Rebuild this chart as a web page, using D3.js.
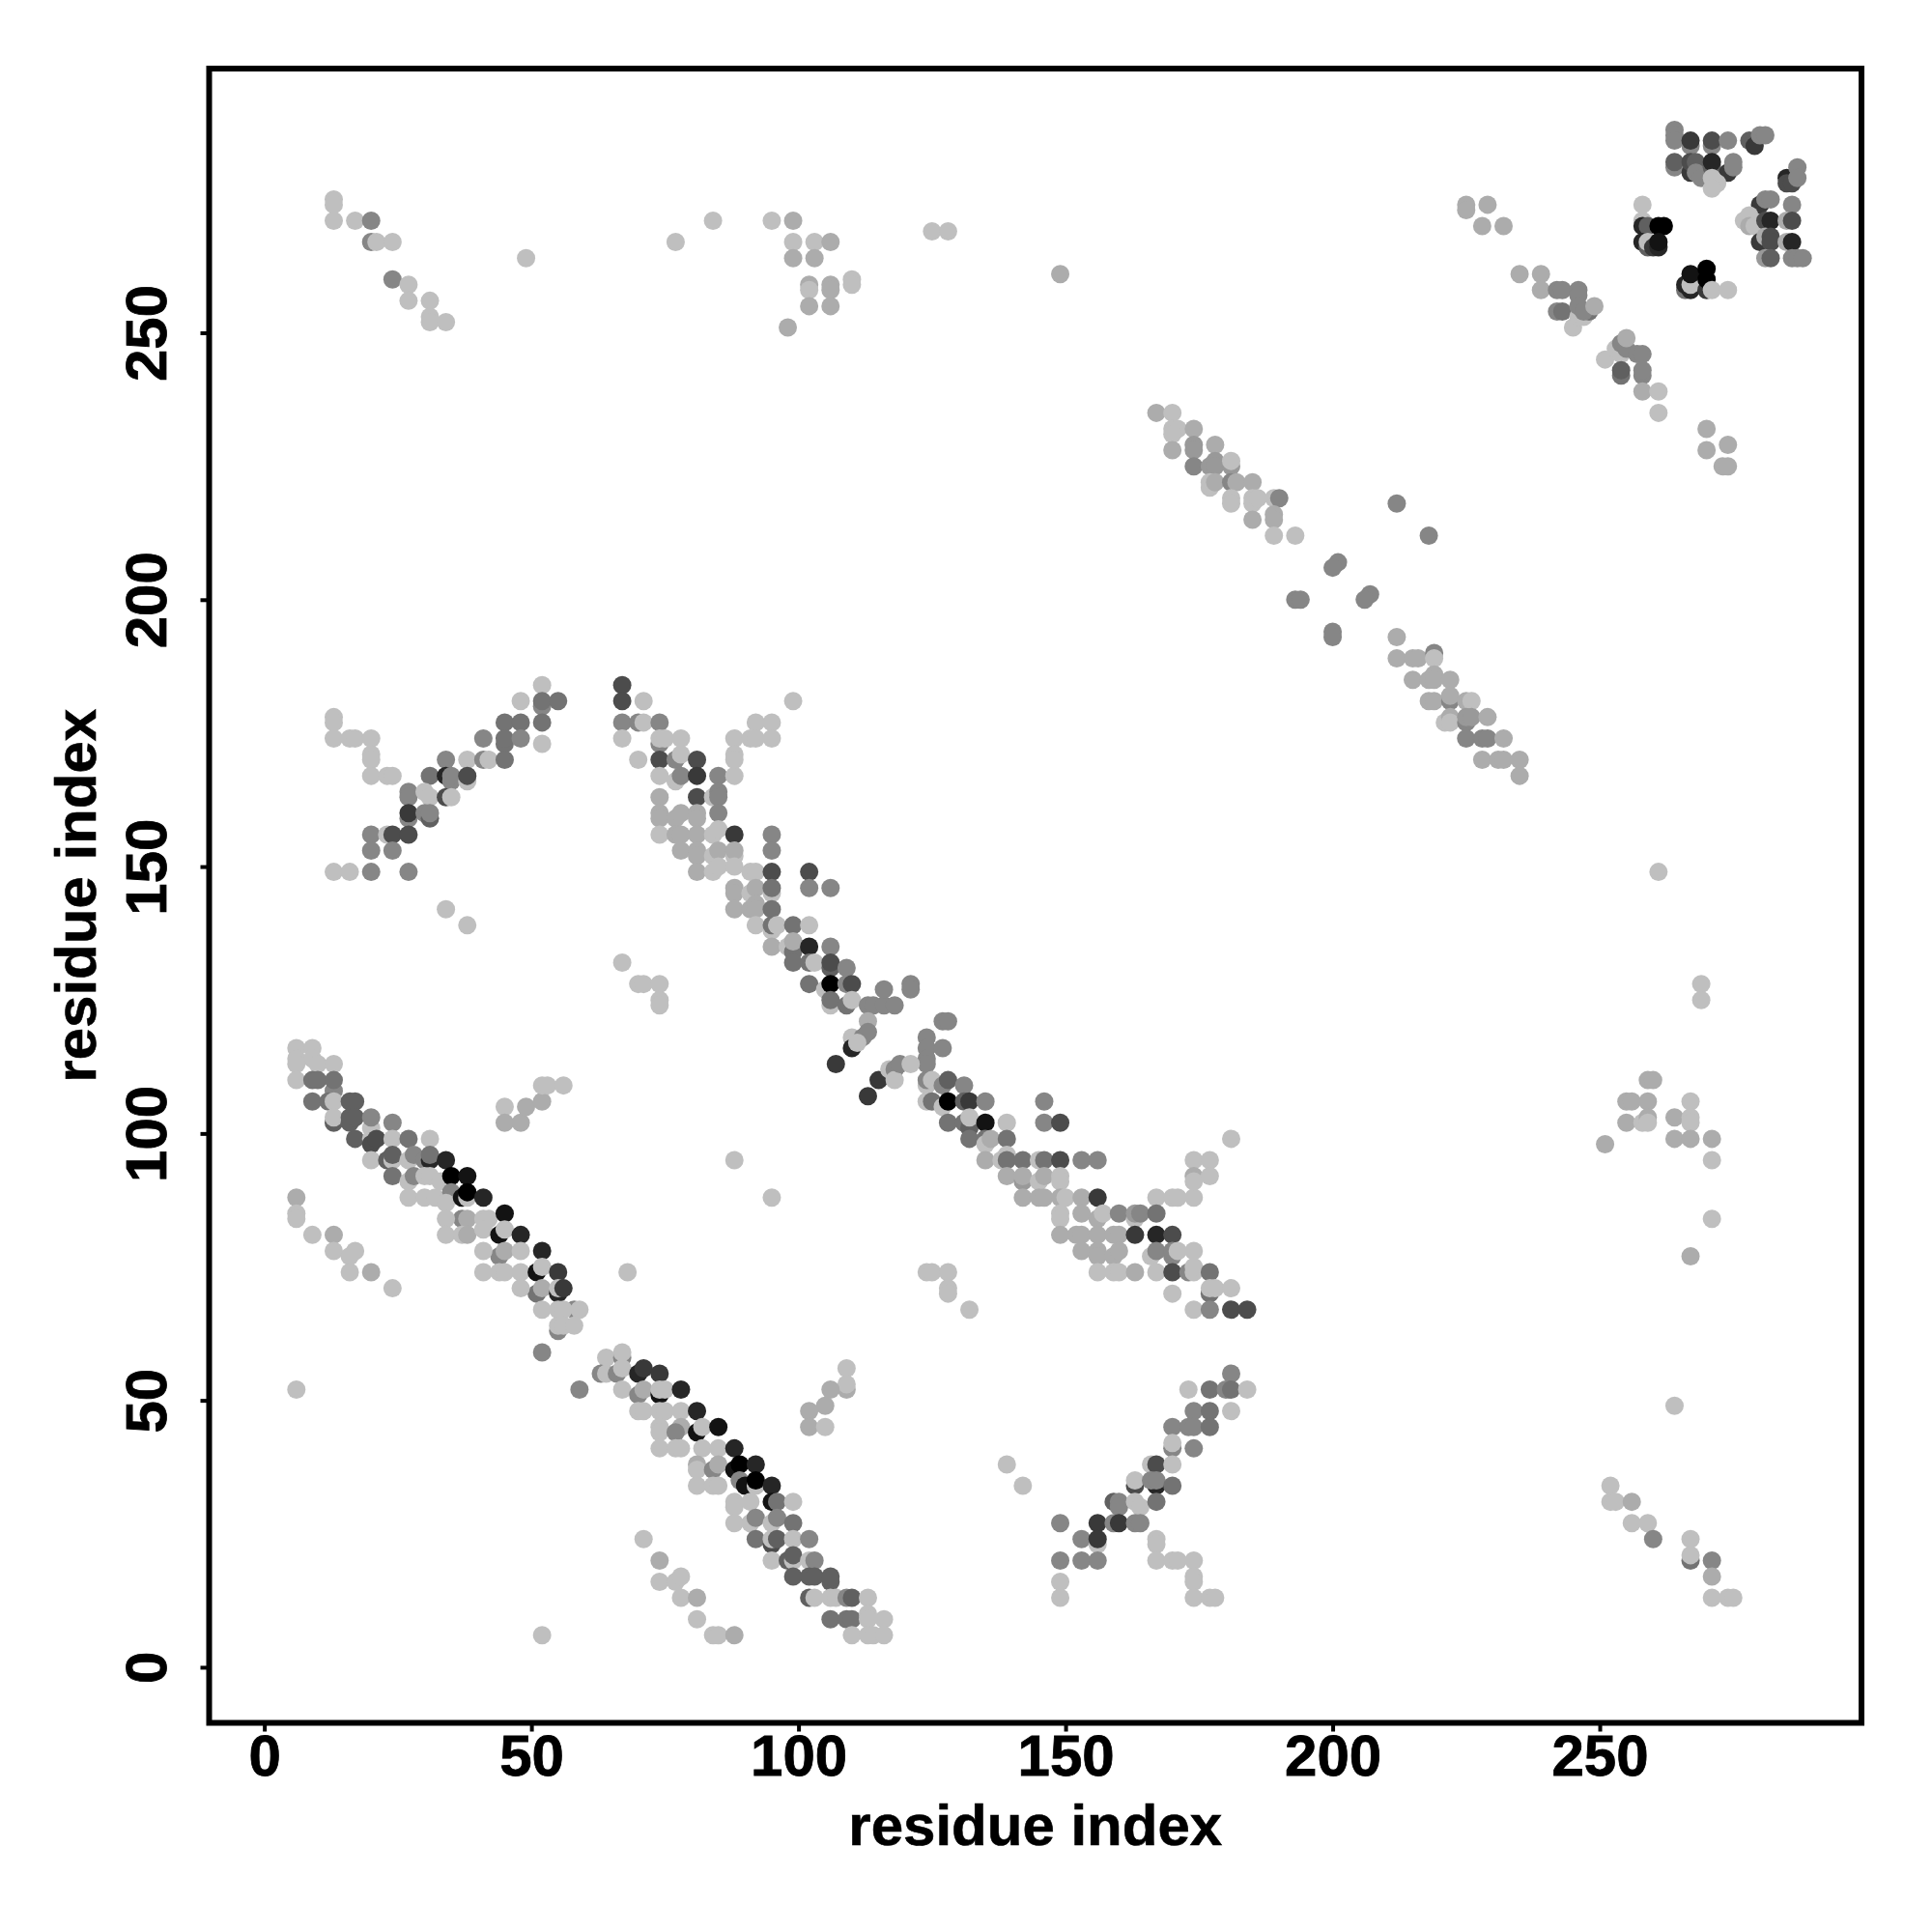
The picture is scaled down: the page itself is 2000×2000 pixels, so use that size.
<!DOCTYPE html>
<html><head><meta charset="utf-8">
<script src="https://cdn.jsdelivr.net/npm/d3@7"></script>
<style>html,body{margin:0;background:#fff}svg{display:block}</style></head>
<body><svg id="c" width="2000" height="2000"></svg>
<script>
const xTickValues=[0,50,100,150,200,250];
const yTickValues=[0,50,100,150,200,250];
const axisTitle="residue index";
// each contact: [residue i, residue j, score]; later rows paint over earlier rows
const diagonalLow=[
[6,116,0],[9,116,0],[6,114,0],[9,114,0],[6,113,0],[10,113,0],[13,113,0],[6,110,0],[9,110,4],[10,110,4],[13,108,3],[13,110,4],[9,106,4],[12,106,4],[13,106,0],[13,102,5],[13,103,0],[16,106,5],[17,106,5],[16,102,5],[16,103,5],[17,103,5],[20,101,0],[20,103,3],[24,102,3],[17,99,5],[20,99,0],[20,98,6],[21,99,6],[24,99,0],[27,99,4],[31,99,0],[20,95,0],[23,95,5],[24,95,0],[24,96,5],[27,95,0],[28,96,3],[30,95,3],[31,95,8],[31,96,4],[34,95,8],[24,92,4],[27,91,0],[28,92,3],[30,92,0],[31,92,0],[34,91,9],[33,91,0],[35,92,10],[38,92,9],[27,88,0],[30,88,0],[32,88,0],[35,89,3],[34,87,0],[37,88,9],[38,88,0],[38,89,10],[41,88,8],[37,84,3],[34,84,0],[38,84,1],[41,84,0],[42,84,0],[45,85,9],[34,81,0],[37,81,0],[38,81,1],[41,82,0],[44,81,9],[45,82,0],[48,81,8],[44,77,3],[41,78,0],[45,78,1],[48,78,0],[52,78,8],[41,74,0],[44,74,0],[45,74,0],[48,74,0],[51,74,9],[52,75,0],[55,74,7],[51,70,4],[48,71,0],[52,71,1],[55,70,8],[55,71,0],[56,71,7],[52,67,0],[58,67,3],[55,67,0],[56,67,0],[59,67,0],[55,63,3],[55,64,0],[56,64,0],[58,64,0],[52,59,3],[6,52,0],[59,52,3],
[6,88,1],[6,85,0],[6,84,0],[9,81,0],[13,81,1],[13,78,0],[17,78,0],[16,77,0],[16,74,0],[20,74,1],[24,71,0],[68,74,0],
[45,105,0],[45,102,1],[48,102,1],[49,105,1],[52,106,1],[52,109,0],[53,109,0],[56,109,0]];
const diagonalSecond=[
[64,58,0],[67,58,3],[67,59,0],[63,55,3],[64,55,0],[66,55,3],[67,56,0],[70,55,8],[71,56,7],[74,55,7],[67,52,0],[70,51,3],[71,52,1],[74,51,9],[74,52,0],[75,52,0],[78,52,8],[70,48,0],[71,48,0],[74,48,0],[75,48,0],[78,48,0],[81,48,8],[74,45,0],[78,45,1],[74,44,0],[77,44,3],[81,44,9],[82,45,0],[85,45,9],[74,41,0],[77,41,0],[78,41,0],[82,41,0],[85,41,0],[88,41,8],[81,38,1],[81,37,0],[84,37,3],[85,38,1],[88,37,9],[89,38,10],[92,38,8],[81,34,0],[84,34,0],[85,34,0],[89,35,3],[90,34,9],[92,34,0],[92,35,10],[95,34,8],[88,31,0],[88,30,0],[91,31,0],[95,31,9],[96,31,4],[99,31,0],[88,27,0],[91,27,0],[92,28,3],[95,27,0],[96,28,3],[99,27,4],[92,24,4],[95,23,6],[95,24,0],[96,24,5],[99,24,0],[102,24,3],[95,20,0],[98,20,5],[99,20,0],[99,21,5],[102,20,0],[103,20,3],[99,17,5],[102,17,5],[103,17,5],[106,16,5],[106,17,5],[102,13,5],[103,13,0],[106,13,0],[107,13,0],[109,13,3],[110,13,5],[113,13,0],[106,9,4],[109,9,4],[110,9,4],[113,10,0],[113,9,0],[116,9,0],[110,6,0],[113,6,0],[114,6,0],[116,6,0],
[71,24,0],[74,20,1],[74,16,0],[77,16,0],[78,17,0],[78,13,0],[81,13,1],[81,9,0],[84,6,0],[85,6,0],[88,6,1],[52,6,0],
[109,56,0],[109,52,1],[109,53,0],[106,52,1],[105,49,1],[102,48,1],[102,45,1],[105,45,0],[139,38,0],[142,34,0]];
const diagonalMiddle=[
[67,184,6],[67,181,6],[71,181,0],[67,177,3],[70,177,3],[71,177,0],[74,177,3],[67,174,0],[74,173,3],[74,174,0],[75,174,0],[78,174,0],[70,170,0],[74,170,6],[77,170,3],[78,171,0],[81,170,6],[74,167,0],[77,166,0],[78,167,3],[81,167,7],[85,167,3],[88,167,0],[74,163,1],[81,163,6],[84,163,0],[85,164,3],[85,163,3],[74,160,1],[74,159,1],[77,159,1],[78,160,1],[81,160,1],[81,159,1],[85,160,3],[74,156,0],[77,156,1],[78,156,1],[81,156,1],[84,156,0],[85,157,0],[88,156,7],[95,156,3],[95,153,3],[78,153,1],[81,153,1],[81,152,1],[84,152,0],[85,153,1],[88,152,0],[88,153,1],[81,149,1],[84,149,0],[85,150,0],[88,150,0],[91,149,0],[92,149,0],[95,149,6],[102,149,6],[88,146,1],[88,145,1],[91,145,0],[92,146,1],[95,145,0],[95,146,4],[102,146,3],[106,146,3],[88,142,1],[91,142,1],[92,143,1],[92,142,1],[95,142,4],[92,139,0],[95,138,0],[95,139,4],[96,139,0],[99,139,4],[102,139,0],[95,135,1],[98,135,0],[99,134,4],[99,136,1],[102,135,8],[106,135,3],[99,132,4],[102,132,4],[103,132,0],[106,131,5],[106,132,6],[109,131,3],[102,128,4],[105,127,0],[106,128,10],[109,128,3],[110,128,6],[106,124,0],[106,125,4],[109,124,4],[110,125,0],[113,124,3],[114,124,3],[116,124,3],[118,124,3],[116,127,3],[121,128,3],[121,127,3],[113,121,1],[127,121,3],[128,121,3],[110,118,0],[112,118,3],[113,119,3],[110,116,8],[111,117,0],[107,113,7],
[124,118,3],[124,116,3],[127,116,3],[124,114,3],[124,113,3],[115,110,7],[117,112,0],[118,112,3],[118,110,0],[119,113,3],[121,113,0],[113,107,7],[124,109,0],[124,110,3],[125,110,0],[127,109,3],[128,110,5],[131,109,3],[124,106,0],[125,106,4],[127,105,0],[128,106,10],[131,106,5],[132,106,7],[135,106,3],[128,102,4],[131,102,4],[132,101,5],[132,103,0],[135,102,9],[139,102,0],[132,99,4],[135,99,4],[135,98,0],[136,99,1],[139,99,4],[135,95,1],[138,95,0],[139,96,0],[139,95,4],[142,95,4],[145,95,0],[146,95,4],[149,95,6],[153,95,3],[156,95,3],[146,106,3],[146,102,3],[149,102,6],[139,92,1],[142,91,2],[142,92,1],[145,91,0],[146,92,1],[149,92,0],[149,91,0],[142,88,1],[145,88,1],[146,88,1],[149,88,1],[150,88,0],[153,88,1],[156,88,7],[167,88,0],[170,88,0],[171,88,0],[174,88,0],[174,95,0],[177,95,0],[181,99,0],[174,92,1],[174,91,0],[177,92,0],[149,85,0],[149,84,0],[153,85,1],[156,84,1],[157,85,0],[160,85,3],[163,84,0],[163,85,2],[164,85,3],[167,85,4],[149,81,1],[152,81,1],[153,81,1],[156,81,1],[159,81,1],[160,81,1],[163,81,7],[167,81,8],[170,81,6],[153,78,1],[156,78,1],[156,77,1],[159,77,1],[160,78,1],[166,77,0],[167,78,3],[170,77,3],[170,78,3],[171,78,0],[174,78,0],[156,74,0],[159,74,0],[160,74,0],[163,74,1],[167,74,0],[170,74,6],[173,74,3],[174,74,0],[174,75,0],[177,74,4],[170,70,0],[177,70,4],[177,71,0],[178,71,0],[181,71,0],[174,67,0],[177,67,3],[181,67,6],[184,67,6],
[124,74,0],[125,74,0],[128,74,0],[128,71,0],[128,70,0],[132,67,0],
[67,132,0],[70,128,0],[71,128,0],[74,128,0],[74,125,0],[74,124,0],[99,181,0],[92,177,0],[95,177,0],[88,174,0],[91,174,0],[92,174,0],[95,174,0],[88,171,0],[88,170,0],[88,95,0],[95,88,0]];
const crossLeft=[
[52,184,0],[48,181,0],[52,180,3],[52,181,4],[55,181,4],[45,177,4],[48,177,4],[52,177,4],[41,174,3],[45,173,4],[45,174,4],[48,174,3],[52,173,0],[34,170,3],[38,170,0],[41,170,3],[42,170,0],[45,170,4],[31,167,4],[34,167,8],[35,166,3],[35,167,3],[38,166,0],[38,167,6],[27,164,3],[27,163,3],[30,164,0],[31,163,0],[34,163,6],[35,163,0],[27,159,3],[27,160,7],[30,160,3],[31,159,5],[31,160,3],[20,156,3],[23,156,0],[24,156,6],[27,156,6],[20,153,3],[24,153,3],[13,149,0],[16,149,0],[20,149,3],[27,149,3],
[13,178,0],[13,177,0],[13,174,0],[16,174,0],[17,174,0],[20,174,0],[20,171,0],[20,170,0],[20,167,0],[23,167,0],[24,167,0],[34,142,0],[38,139,0]];
const crossLower=[
[181,55,3],[173,52,0],[177,52,4],[180,52,3],[181,52,4],[184,52,0],[174,48,3],[177,48,4],[181,48,0],[170,45,3],[173,45,3],[174,45,3],[177,45,4],[170,41,3],[170,42,0],[174,41,3],[166,38,0],[167,38,6],[170,38,0],[163,34,6],[163,35,0],[167,34,8],[166,35,3],[167,35,3],[170,34,4],[159,31,5],[160,31,3],[160,30,3],[163,31,0],[164,30,0],[167,31,4],[149,27,3],[156,27,7],[159,27,3],[160,27,7],[163,27,3],[164,27,3],[153,24,3],[156,23,0],[156,24,7],[167,24,0],[167,23,0],[149,20,3],[153,20,3],[156,20,3],[167,20,0],[170,20,0],[171,20,0],[174,20,0],[149,16,0],[174,17,0],[174,16,0],[149,13,0],[174,13,0],[177,13,0],[178,13,0]];
const diagonalUpper=[
[167,235,1],[170,235,0],[170,232,0],[171,232,0],[174,232,1],[170,231,0],[170,228,1],[174,229,2],[174,228,2],[178,229,1],[174,225,3],[177,225,2],[178,226,2],[178,225,2],[181,225,2],[181,226,0],[177,221,0],[177,222,0],[178,222,1],[181,222,3],[182,222,1],[185,222,1],[181,219,0],[181,218,0],[185,219,0],[185,218,0],[186,219,0],[189,219,0],[190,219,3],[185,215,1],[189,216,1],[189,215,1],[189,212,0],[193,212,0],
[212,218,3],[218,212,3],[201,207,3],[200,206,3],[193,200,3],[194,200,3],[207,201,3],[206,200,3],[200,194,3],[200,193,3],
[212,193,1],[212,189,1],[215,189,1],[216,189,1],[219,190,3],[219,189,0],[215,185,1],[218,185,1],[219,186,1],[219,185,1],[222,185,1],[218,181,1],[219,181,1],[222,181,3],[222,182,1],[225,181,1],[226,181,0],[221,177,0],[222,178,1],[222,177,0],[225,177,3],[225,178,2],[226,178,2],[229,178,1],[225,174,3],[228,174,3],[229,174,3],[232,174,1],[228,170,1],[231,170,1],[232,170,1],[235,170,1],[235,167,1]];
const topRight=[
[225,274,1],[225,273,1],[229,274,1],[228,270,1],[232,270,1],[235,261,1],[239,261,1],[239,258,1],[242,258,3],[243,258,3],[246,258,3],[246,257,3],[242,254,3],[243,254,4],[245,251,0],[246,253,0],[247,253,0],[248,254,4],[246,255,3],[247,254,3],[249,255,1],[251,245,0],[253,247,0],[254,246,0],[254,248,3],[255,247,3],[255,249,1],[257,246,3],[258,246,3],[254,242,4],[254,243,5],[258,242,3],[258,243,3],[258,239,1],[261,239,0],[261,235,0],[270,232,1],[270,228,1],[274,229,1],[273,225,1],[274,225,1],
[258,274,0],[258,271,0],[258,270,8],[259,270,5],[261,270,10],[262,270,10],[258,267,8],[259,266,5],[259,267,0],[260,266,7],[261,266,8],[261,267,9],[266,258,4],[266,259,8],[267,258,8],[267,259,0],[267,261,9],[270,258,7],[270,260,10],[270,262,10],[271,258,0],[274,258,0],
[264,288,3],[264,287,3],[264,286,3],[267,285,3],[267,286,7],[271,285,3],[271,286,6],[274,286,3],[278,286,5],[279,285,7],[280,287,3],[281,287,3],[264,281,3],[264,282,5],[267,280,7],[267,282,6],[268,282,5],[268,280,3],[269,279,3],[271,281,5],[271,282,8],[274,280,7],[275,282,3],[275,281,3],[271,279,0],[272,278,0],[271,277,0],
[285,279,8],[285,278,6],[286,278,6],[287,281,3],[287,279,3],[280,274,7],[281,275,3],[282,275,3],[286,274,3],[277,271,0],[278,272,0],[278,270,1],[279,270,0],[281,271,6],[282,271,8],[285,271,1],[286,271,6],[280,267,7],[281,268,1],[282,268,6],[282,267,6],[285,267,1],[286,267,8],[281,264,2],[282,264,5],[286,264,3],[287,264,3],[288,264,3]];
const topLeftAndMiddle=[
[13,275,0],[13,274,0],[13,271,0],[17,271,0],[20,271,3],[20,267,3],[21,267,0],[24,267,0],[24,260,3],[27,259,0],[27,256,0],[31,256,0],[31,253,0],[31,252,0],[34,252,0],[49,264,0],[77,267,0],[84,271,0],[95,271,0],[99,271,1],[99,267,0],[99,264,1],[103,267,0],[103,264,1],[106,267,1],[102,259,1],[102,258,0],[106,259,1],[106,258,1],[110,260,0],[110,259,0],[102,255,1],[106,255,1],[98,251,1],[125,269,0],[128,269,0],[149,261,1]];
const farRight=[
[259,110,1],[260,110,1],[255,106,1],[256,106,1],[259,106,1],[255,102,1],[258,102,0],[259,103,1],[259,102,0],[251,98,1],[264,103,1],[267,106,0],[267,103,0],[267,102,0],[264,99,1],[267,99,1],[271,99,1],[271,95,0],[271,84,0],[267,77,1],[264,49,0],
[252,34,0],[252,31,0],[253,31,0],[256,31,1],[256,27,0],[259,27,0],[260,24,3],[267,24,0],[267,20,4],[267,21,0],[271,20,3],[271,17,1],[271,13,0],[274,13,0],[275,13,0],[261,149,0],[269,128,0],[269,125,0]];

const contacts=[...topLeftAndMiddle,...farRight,...crossLeft,...crossLower,...diagonalUpper,...topRight,...diagonalMiddle,...diagonalSecond,...diagonalLow];

const panelLeft=216.5,panelRight=1927,panelTop=71,panelBottom=1783.5;
const x=d3.scaleLinear().domain([-10.33,299]).range([panelLeft,panelRight]);
const y=d3.scaleLinear().domain([-10.42,299.5]).range([panelBottom,panelTop]);
const shade=d3.scaleLinear().domain([0,10]).range(["#bfbfbf","#000000"]);
const font='"Liberation Sans",Arial,sans-serif';
const svg=d3.select("#c");
svg.append("rect").attr("width",2000).attr("height",2000).attr("fill","#fff");

svg.append("g").selectAll("circle").data(contacts).join("circle")
  .attr("cx",d=>x(d[0])).attr("cy",d=>y(d[1])).attr("r",9.5)
  .attr("fill",d=>shade(d[2]));

svg.append("rect").attr("x",panelLeft).attr("y",panelTop).attr("width",panelRight-panelLeft).attr("height",panelBottom-panelTop)
  .attr("fill","none").attr("stroke","#000").attr("stroke-width",6);

const gx=svg.append("g").attr("transform",`translate(0,${panelBottom})`)
  .call(d3.axisBottom(x).tickValues(xTickValues).tickSize(9).tickPadding(3));
const gy=svg.append("g").attr("transform",`translate(${panelLeft},0)`)
  .call(d3.axisLeft(y).tickValues(yTickValues).tickSize(9));
[gx,gy].forEach(g=>{
  g.select(".domain").remove();
  g.selectAll(".tick line").attr("stroke","#000").attr("stroke-width",4);
  g.selectAll("text").attr("font-family",font).attr("font-weight",700).attr("font-size",60)
    .attr("fill","#000").attr("stroke","#000").attr("stroke-width",0.8);
});
gy.selectAll(".tick text").attr("transform","rotate(-90)")
  .attr("x",0).attr("y",-44.5).attr("text-anchor","middle").attr("dy",0);

svg.append("text").attr("x",(panelLeft+panelRight)/2).attr("y",1910).attr("text-anchor","middle")
  .attr("font-family",font).attr("font-weight",700).attr("font-size",60)
  .attr("stroke","#000").attr("stroke-width",0.6).text(axisTitle);
svg.append("text").attr("transform",`translate(99,${(panelTop+panelBottom)/2}) rotate(-90)`).attr("text-anchor","middle")
  .attr("font-family",font).attr("font-weight",700).attr("font-size",60)
  .attr("stroke","#000").attr("stroke-width",0.6).text(axisTitle);
</script></body></html>
